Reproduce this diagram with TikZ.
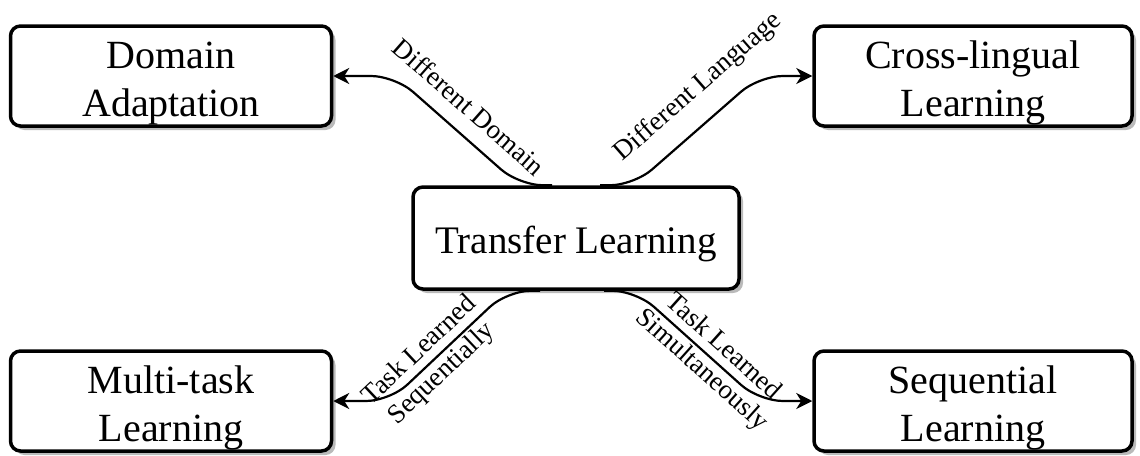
\documentclass[tikz,border=0pt]{standalone}
\usepackage{fontspec}
\setmainfont{Liberation Serif}
\usetikzlibrary{arrows.meta,shadows,calc}
\begin{document}
\begin{tikzpicture}[x=1pt,y=-1pt,
  box/.style={draw, line width=3.5pt, rounded corners=10pt, fill=white,
    align=center, font=\fontsize{40}{48}\selectfont,
    text height=89pt, text depth=9pt,
    minimum width=321pt, minimum height=100pt, inner sep=0pt,
    drop shadow={shadow xshift=4pt, shadow yshift=-4pt, fill=black!27, opacity=1}},
  link/.style={line width=2.2pt, rounded corners=24pt,
    -{Stealth[length=16pt,width=16pt,inset=5pt]}},
  lbl/.style={font=\fontsize{27}{32}\selectfont, sloped, inner sep=2pt, align=center}]
  \useasboundingbox (0,0) rectangle (1140,455);

  % boxes
  \node[box] (da) at (171,76) {Domain\\Adaptation};
  \node[box, minimum width=318pt] (cl) at (973,76) {Cross-lingual\\Learning};
  \node[box, minimum width=326pt, minimum height=102pt,
        font=\fontsize{39}{47}\selectfont, text height=39pt] (tl) at (576,238) {Transfer Learning};
  \node[box] (mt) at (171,401) {Multi-task\\Learning};
  \node[box, minimum width=318pt] (sl) at (973,401) {Sequential\\Learning};

  % connectors
  \draw[link] ($(tl.north)+(-24,0)$) -- ($(tl.north)+(-57,0)$)
    -- node[lbl, above=13pt, pos=0.54] {Different Domain} (395,76) -- (da.east);
  \draw[link] ($(tl.north)+(24,0)$) -- ($(tl.north)+(58,0)$)
    -- node[lbl, above=16pt, pos=0.68] {Different Language} (759,76) -- (cl.west);
  \draw[link] ($(tl.south)+(-36,0)$) -- ($(tl.south)+(-69,0)$)
    -- node[lbl, pos=0.65] {Task Learned\\Sequentially} (390,401) -- (mt.east);
  \draw[link] ($(tl.south)+(28,0)$) -- ($(tl.south)+(60,0)$)
    -- node[lbl, pos=0.62] {Task Learned\\Simultaneously} (759,401) -- (sl.west);
\end{tikzpicture}
\end{document}
